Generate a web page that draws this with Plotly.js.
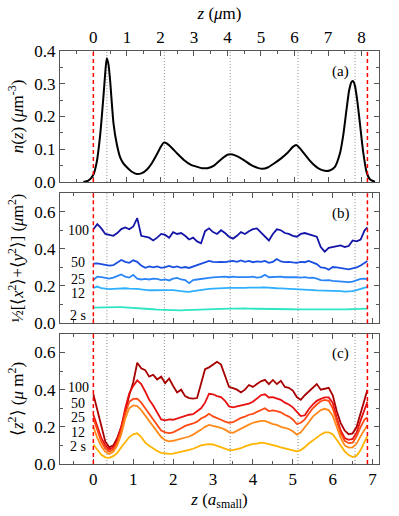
<!DOCTYPE html>
<html>
<head>
<meta charset="utf-8">
<script src="https://cdn.plot.ly/plotly-3.0.1.min.js"></script>
<style>
  html, body { margin: 0; padding: 0; background: #fff; }
  #plot { width: 399px; height: 516px; }
</style>
</head>
<body>
<div id="plot"></div>
<script>
// panel (a): density profile, z in micrometres
var zUm = [-0.3, -0.15, 0, 0.1, 0.2, 0.3, 0.36, 0.4, 0.45, 0.5, 0.6, 0.7, 0.8, 0.9, 1.0, 1.15, 1.3, 1.45,
  1.6, 1.75, 1.9, 2.0, 2.1, 2.2, 2.35, 2.5, 2.7, 2.9, 3.1, 3.25, 3.4, 3.6, 3.8, 4.0, 4.15, 4.3, 4.5,
  4.7, 4.9, 5.05, 5.2, 5.4, 5.6, 5.8, 5.95, 6.05, 6.15, 6.3, 6.5, 6.7, 6.9, 7.05, 7.2, 7.35, 7.45,
  7.55, 7.63, 7.7, 7.75, 7.8, 7.87, 7.95, 8.05, 8.15, 8.25, 8.4];
var nz = [0, 0.004, 0.022, 0.06, 0.14, 0.26, 0.34, 0.378, 0.36, 0.31, 0.18, 0.115, 0.075, 0.056, 0.045,
  0.031, 0.024, 0.027, 0.038, 0.058, 0.085, 0.105, 0.12, 0.117, 0.103, 0.087, 0.067, 0.053, 0.046,
  0.042, 0.042, 0.05, 0.068, 0.083, 0.084, 0.078, 0.066, 0.052, 0.043, 0.04, 0.044, 0.057, 0.072,
  0.09, 0.107, 0.113, 0.104, 0.085, 0.06, 0.042, 0.034, 0.035, 0.045, 0.085, 0.14, 0.22, 0.28, 0.305,
  0.308, 0.295, 0.25, 0.18, 0.09, 0.03, 0.008, 0];

// panels (b) and (c): z in units of a_small
var zA = [0, 0.1, 0.2, 0.3, 0.4, 0.5, 0.6, 0.7, 0.8, 0.9, 1.0, 1.1, 1.2, 1.3, 1.4, 1.5, 1.6, 1.7, 1.8, 1.9,
  2.0, 2.1, 2.2, 2.3, 2.4, 2.5, 2.6, 2.7, 2.8, 2.9, 3.0, 3.1, 3.2, 3.3, 3.4, 3.5, 3.6, 3.7, 3.8, 3.9,
  4.0, 4.1, 4.2, 4.3, 4.4, 4.5, 4.6, 4.7, 4.8, 4.9, 5.0, 5.1, 5.2, 5.3, 5.4, 5.5, 5.6, 5.7, 5.8, 5.9,
  6.0, 6.1, 6.2, 6.3, 6.4, 6.5, 6.6, 6.7, 6.8, 6.87];

var times = ['100', '50', '25', '12', '2 s'];

var xy100 = [0.505,0.533,0.51,0.48,0.475,0.47,0.485,0.506,0.515,0.505,
  0.52,0.565,0.47,0.465,0.46,0.445,0.46,0.48,0.475,0.46,
  0.49,0.48,0.485,0.47,0.45,0.46,0.44,0.43,0.495,0.51,
  0.49,0.48,0.5,0.485,0.465,0.455,0.47,0.49,0.48,0.495,
  0.506,0.51,0.49,0.465,0.445,0.48,0.505,0.5,0.485,0.48,
  0.47,0.465,0.48,0.485,0.478,0.47,0.465,0.41,0.385,0.405,
  0.41,0.415,0.418,0.41,0.415,0.445,0.44,0.45,0.5,0.515];
var xy50 = [0.32,0.322,0.318,0.312,0.31,0.312,0.325,0.34,0.33,0.325,
  0.338,0.33,0.31,0.298,0.305,0.3,0.305,0.298,0.302,0.308,
  0.3,0.305,0.298,0.302,0.297,0.305,0.31,0.32,0.325,0.335,
  0.33,0.328,0.33,0.328,0.333,0.335,0.33,0.338,0.33,0.335,
  0.328,0.332,0.33,0.335,0.325,0.33,0.345,0.332,0.328,0.33,
  0.327,0.325,0.33,0.328,0.335,0.325,0.318,0.3,0.298,0.288,
  0.302,0.3,0.297,0.295,0.29,0.295,0.3,0.31,0.325,0.335];
var xy25 = [0.233,0.25,0.248,0.242,0.24,0.245,0.255,0.262,0.25,0.245,
  0.26,0.24,0.235,0.238,0.235,0.24,0.238,0.232,0.236,0.23,
  0.24,0.244,0.235,0.232,0.215,0.232,0.235,0.239,0.242,0.244,
  0.246,0.248,0.247,0.25,0.247,0.25,0.248,0.247,0.25,0.248,
  0.25,0.245,0.248,0.26,0.247,0.248,0.246,0.25,0.247,0.248,
  0.246,0.247,0.245,0.248,0.244,0.245,0.24,0.232,0.23,0.232,
  0.228,0.226,0.225,0.222,0.221,0.224,0.232,0.238,0.24,0.237];
var xy12 = [0.19,0.197,0.188,0.185,0.183,0.185,0.186,0.19,0.188,0.186,
  0.187,0.185,0.182,0.178,0.177,0.177,0.178,0.176,0.177,0.178,
  0.178,0.177,0.172,0.17,0.168,0.172,0.176,0.18,0.183,0.185,
  0.186,0.188,0.19,0.189,0.19,0.19,0.189,0.19,0.19,0.191,
  0.19,0.19,0.192,0.193,0.19,0.19,0.188,0.187,0.186,0.185,
  0.185,0.184,0.183,0.184,0.18,0.178,0.176,0.176,0.175,0.175,
  0.176,0.174,0.172,0.17,0.169,0.172,0.178,0.183,0.19,0.195];
var xy2 = [0.084,0.085,0.086,0.086,0.087,0.087,0.086,0.086,0.085,0.085,
  0.084,0.082,0.08,0.078,0.076,0.075,0.073,0.072,0.07,0.069,
  0.068,0.068,0.069,0.07,0.071,0.072,0.072,0.073,0.074,0.075,
  0.076,0.076,0.077,0.077,0.078,0.078,0.079,0.079,0.079,0.078,
  0.078,0.078,0.079,0.078,0.078,0.078,0.077,0.077,0.076,0.076,
  0.075,0.074,0.074,0.073,0.072,0.072,0.071,0.071,0.072,0.072,
  0.073,0.073,0.074,0.075,0.075,0.076,0.077,0.077,0.078,0.078];

var zz100 = [0.375,0.29,0.19,0.12,0.09,0.1,0.14,0.2,0.28,0.37,
  0.44,0.545,0.515,0.505,0.47,0.48,0.455,0.47,0.435,0.46,
  0.42,0.385,0.4,0.365,0.355,0.352,0.355,0.44,0.51,0.52,
  0.534,0.55,0.535,0.48,0.415,0.408,0.4,0.385,0.4,0.425,
  0.415,0.43,0.445,0.453,0.43,0.452,0.43,0.448,0.415,0.41,
  0.395,0.36,0.345,0.37,0.39,0.41,0.43,0.4,0.405,0.41,
  0.37,0.285,0.22,0.18,0.16,0.165,0.2,0.275,0.36,0.4];
var zz50 = [0.265,0.2,0.14,0.1,0.078,0.09,0.13,0.2,0.3,0.38,
  0.42,0.45,0.43,0.39,0.345,0.315,0.275,0.24,0.235,0.24,
  0.238,0.245,0.255,0.262,0.265,0.268,0.285,0.3,0.33,0.378,
  0.375,0.365,0.36,0.34,0.31,0.305,0.31,0.315,0.318,0.325,
  0.335,0.355,0.37,0.375,0.358,0.36,0.352,0.345,0.33,0.32,
  0.305,0.28,0.258,0.262,0.295,0.32,0.34,0.35,0.358,0.358,
  0.33,0.25,0.18,0.14,0.13,0.135,0.17,0.235,0.3,0.335];
var zz25 = [0.245,0.18,0.12,0.083,0.066,0.078,0.115,0.18,0.27,0.335,
  0.35,0.352,0.33,0.3,0.27,0.24,0.21,0.18,0.17,0.166,
  0.17,0.18,0.192,0.205,0.21,0.218,0.228,0.245,0.255,0.27,
  0.256,0.245,0.238,0.228,0.222,0.225,0.238,0.248,0.255,0.265,
  0.27,0.28,0.29,0.3,0.285,0.288,0.285,0.278,0.265,0.255,
  0.24,0.215,0.222,0.24,0.27,0.3,0.32,0.338,0.345,0.34,
  0.3,0.23,0.165,0.125,0.112,0.115,0.15,0.2,0.24,0.25];
var zz12 = [0.2,0.14,0.095,0.065,0.054,0.065,0.1,0.16,0.245,0.3,
  0.315,0.312,0.29,0.26,0.235,0.2,0.175,0.145,0.128,0.122,
  0.125,0.13,0.135,0.142,0.148,0.158,0.17,0.185,0.2,0.21,
  0.205,0.2,0.195,0.185,0.172,0.168,0.18,0.19,0.2,0.212,
  0.222,0.228,0.232,0.232,0.222,0.215,0.21,0.2,0.195,0.188,
  0.176,0.158,0.17,0.195,0.225,0.255,0.275,0.29,0.297,0.29,
  0.26,0.2,0.14,0.1,0.088,0.09,0.11,0.15,0.19,0.21];
var zz2 = [0.105,0.075,0.05,0.036,0.033,0.042,0.06,0.09,0.12,0.145,
  0.16,0.165,0.145,0.115,0.098,0.083,0.07,0.06,0.056,0.055,
  0.056,0.06,0.065,0.07,0.076,0.082,0.092,0.1,0.104,0.107,
  0.105,0.098,0.092,0.085,0.075,0.075,0.078,0.085,0.095,0.102,
  0.108,0.11,0.115,0.112,0.108,0.1,0.096,0.09,0.085,0.078,
  0.072,0.068,0.075,0.09,0.11,0.128,0.142,0.158,0.17,0.17,
  0.16,0.13,0.1,0.068,0.048,0.037,0.045,0.075,0.12,0.15];

// wall positions and layer centres, in a_small
var walls = [0, 6.87];
var layers = [0.34, 1.78, 3.43, 5.13, 6.56];

var umPerA = 1.19;
var blues = ['#1414a8', '#1a4ee0', '#2a86f8', '#2fb0ff', '#2ee6c4'];
var reds = ['#a80000', '#e81010', '#ff4a14', '#ff8a1a', '#ffb400'];
var xySets = [xy100, xy50, xy25, xy12, xy2];
var zzSets = [zz100, zz50, zz25, zz12, zz2];

var data = [{
  x: zUm, y: nz, xaxis: 'x2', yaxis: 'y3', type: 'scatter', mode: 'lines',
  line: {color: '#000', width: 2, shape: 'spline', smoothing: 0.6}, showlegend: false
}];
for (var i = 0; i < 5; i++) {
  data.push({x: zA, y: xySets[i], xaxis: 'x3', yaxis: 'y2', type: 'scatter', mode: 'lines',
    line: {color: blues[i], width: 1.8}, showlegend: false});
  data.push({x: zA, y: zzSets[i], xaxis: 'x', yaxis: 'y', type: 'scatter', mode: 'lines',
    line: {color: reds[i], width: 1.8}, showlegend: false});
}

var serif = 'Liberation Serif, Times New Roman, serif';
var font = {family: serif, size: 17, color: '#000'};
var frame = {showline: true, linecolor: '#555', linewidth: 1, mirror: 'ticks', ticks: 'inside',
  ticklen: 5, tickcolor: '#555', showgrid: false, zeroline: false, tickfont: font};
function ax(extra) { return Object.assign({}, frame, extra); }

var xr = [-0.836, 7.16];
var shapes = [];
var panelY = ['y domain', 'y2 domain', 'y3 domain'];
panelY.forEach(function (yr) {
  layers.forEach(function (l) {
    shapes.push({type: 'line', xref: 'x', yref: yr, x0: l, x1: l, y0: 0, y1: 1, layer: 'below',
      line: {color: '#8a8a8a', width: 1, dash: '1px,2px'}});
  });
  walls.forEach(function (w) {
    shapes.push({type: 'line', xref: 'x', yref: yr, x0: w, x1: w, y0: 0, y1: 1,
      line: {color: '#ff0000', width: 1.5, dash: '4px,3px'}});
  });
});

var annotations = [];
var bPos = [0.497, 0.326, 0.235, 0.16, 0.043];
var cPos = [0.41, 0.324, 0.249, 0.168, 0.093];
var lblFont = {family: serif, size: 14, color: '#000'};
times.forEach(function (t, i) {
  annotations.push({text: t, x: -0.38, y: bPos[i], xref: 'x3', yref: 'y2', showarrow: false,
    font: lblFont, height: 13, valign: 'middle'});
  annotations.push({text: t, x: -0.38, y: cPos[i], xref: 'x', yref: 'y', showarrow: false,
    font: lblFont, height: 13, valign: 'middle'});
});
var panelFont = {family: serif, size: 15, color: '#000'};
annotations.push({text: '(a)', x: 6.2, y: 0.336, xref: 'x', yref: 'y3', showarrow: false, font: panelFont});
annotations.push({text: '(b)', x: 6.2, y: 0.588, xref: 'x3', yref: 'y2', showarrow: false, font: panelFont});
annotations.push({text: '(c)', x: 6.2, y: 0.593, xref: 'x', yref: 'y', showarrow: false, font: panelFont});

var layout = {
  width: 399, height: 516,
  margin: {l: 60, r: 20, t: 51, b: 52},
  paper_bgcolor: '#fff', plot_bgcolor: '#fff',
  font: font,
  xaxis: ax({domain: [0, 1], anchor: 'y', range: xr, dtick: 1, tick0: 0,
    minor: {ticks: 'inside', ticklen: 3, dtick: 0.5, tickcolor: '#555'},
    title: {text: '<i>z</i> (<i>a</i><sub>small</sub>)', font: font, standoff: 4}}),
  xaxis3: ax({domain: [0, 1], anchor: 'y2', matches: 'x', range: xr, dtick: 1, tick0: 0,
    showticklabels: false, minor: {ticks: 'inside', ticklen: 3, dtick: 0.5, tickcolor: '#555'}}),
  xaxis2: ax({domain: [0, 1], anchor: 'y3', side: 'top', range: [xr[0] * umPerA, xr[1] * umPerA],
    dtick: 1, tick0: 0, minor: {ticks: 'inside', ticklen: 3, dtick: 0.5, tickcolor: '#555'},
    title: {text: '<i>z</i> (<i>μ</i>m)', font: font, standoff: 4}}),
  yaxis: ax({domain: [0, 0.315], anchor: 'x', range: [0, 0.7], dtick: 0.2, tickformat: '.1f',
    minor: {ticks: 'inside', ticklen: 3, dtick: 0.1, tickcolor: '#555'},
    title: {text: '⟨<i>z</i><sup>2</sup>⟩ (<i>μ</i> m<sup>2</sup>)', font: font, standoff: 6}}),
  yaxis2: ax({domain: [0.341, 0.656], anchor: 'x3', range: [0, 0.7], dtick: 0.2, tickformat: '.1f',
    minor: {ticks: 'inside', ticklen: 3, dtick: 0.1, tickcolor: '#555'},
    title: {text: '½[⟨<i>x</i><sup>2</sup>⟩+⟨<i>y</i><sup>2</sup>⟩] (<i>μ</i>m<sup>2</sup>)',
      font: {family: serif, size: 16.5, color: '#000'}, standoff: 6}}),
  yaxis3: ax({domain: [0.683, 1], anchor: 'x2', range: [0, 0.4], dtick: 0.1, tickformat: '.1f',
    minor: {ticks: 'inside', ticklen: 3, dtick: 0.05, tickcolor: '#555'},
    title: {text: '<i>n</i>(<i>z</i>) (<i>μ</i>m<sup>-3</sup>)', font: font, standoff: 6}}),
  shapes: shapes,
  annotations: annotations
};

Plotly.newPlot('plot', data, layout, {staticPlot: true});
</script>
</body>
</html>
